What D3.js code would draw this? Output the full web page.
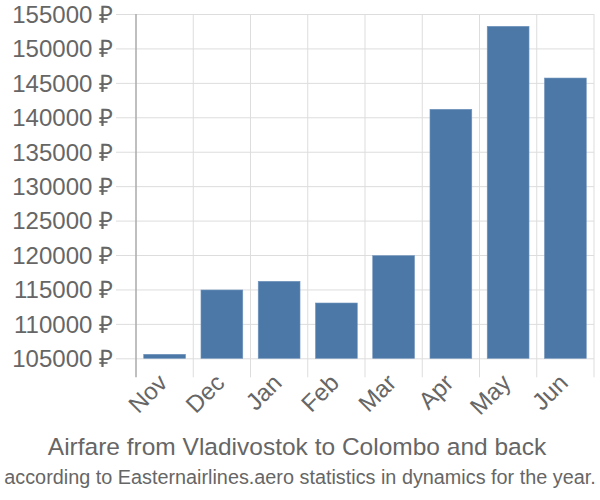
<!DOCTYPE html>
<html><head><meta charset="utf-8">
<script src="https://cdn.jsdelivr.net/npm/d3@7"></script>
<style>body{margin:0;background:#fff}svg{display:block;font-family:"Liberation Sans",Arial,sans-serif}</style>
</head><body><svg id="c" width="600" height="500"></svg>
<script>
const months = ["Nov","Dec","Jan","Feb","Mar","Apr","May","Jun"];
const prices = [105580, 114920, 116180, 113030, 119900, 141160, 153210, 145700];
const yTicks = [105000,110000,115000,120000,125000,130000,135000,140000,145000,150000,155000];
const title = "Airfare from Vladivostok to Colombo and back";
const subtitle = "according to Easternairlines.aero statistics in dynamics for the year.";

const svg = d3.select("#c");
const L = 136, R = 594, T = 14, B = 358.3;
const x = d3.scaleBand().domain(months).range([L, R]).paddingInner(0.27).paddingOuter(0.135);
const y = d3.scaleLinear().domain([105000, 155000]).range([B, T]);
const grid = "#dddddd", txt = "#666666";

// horizontal grid + tick labels
const ya = svg.append("g").attr("transform", `translate(${R},0)`)
  .call(d3.axisLeft(y).tickValues(yTicks).tickSize(R - 116).tickPadding(3).tickFormat(d => d + " ₽"));
ya.select(".domain").remove();
ya.selectAll("line").attr("stroke", grid).attr("stroke-width", 1);
ya.selectAll("text").attr("fill", txt).style("font-size", "24px").attr("dy", "0.35em");

// vertical grid lines at band boundaries
const bounds = months.map(m => x(m) - x.step() * x.paddingInner() / 2).concat([R]);
bounds[0] = L;
svg.append("g").selectAll("line").data(bounds).join("line")
  .attr("x1", d => d).attr("x2", d => d).attr("y1", T).attr("y2", B + 19)
  .attr("stroke", (d, i) => i === 0 ? "#aaaaaa" : grid).attr("stroke-width", (d, i) => i === 0 ? 1.5 : 1);

// bars
svg.append("g").selectAll("rect").data(prices).join("rect")
  .attr("x", (d, i) => x(months[i])).attr("width", x.bandwidth())
  .attr("y", d => y(d)).attr("height", d => B - y(d))
  .attr("fill", "#4c78a8").attr("stroke", "#6f93bb").attr("stroke-width", 0.6);

// x labels
svg.append("g").selectAll("text").data(months).join("text")
  .attr("transform", m => `translate(${x(m) + x.bandwidth() / 2 + 4},${B + 26}) rotate(-45)`)
  .attr("text-anchor", "end").attr("fill", txt).style("font-size", "24px").text(m => m);

svg.append("text").attr("x", 297).attr("y", 455).attr("text-anchor", "middle")
  .attr("fill", txt).style("font-size", "24.5px").text(title);
const sub = svg.append("text").attr("x", 0).attr("y", 0).attr("text-anchor", "middle")
  .attr("fill", txt).style("font-size", "21px").text(subtitle);
const w = sub.node().getComputedTextLength();
sub.attr("transform", `translate(300,484) scale(${Math.min(1, 592 / w)},1)`);
</script></body></html>
